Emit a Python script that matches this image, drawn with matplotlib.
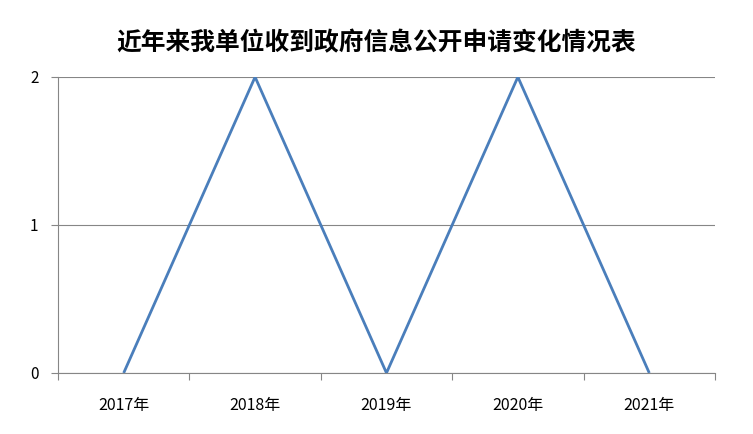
import matplotlib
matplotlib.use("Agg")
import matplotlib.pyplot as plt

plt.rcParams['font.family'] = ['Noto Sans CJK SC', 'DejaVu Sans']

years = ["2017年", "2018年", "2019年", "2020年", "2021年"]
counts = [0, 2, 0, 2, 0]
y_ticks = [0, 1, 2]
title = "近年来我单位收到政府信息公开申请变化情况表"

fig = plt.figure(figsize=(7.53, 4.34), dpi=100)
ax = fig.add_axes([0.077, 0.1406, 0.8725, 0.682])

x = range(len(years))
ax.plot(x, counts, color="#4a7ebb", linewidth=2.0, solid_capstyle="butt")

ax.set_xlim(-0.5, len(years) - 0.5)
ax.set_ylim(0, 2)
ax.set_yticks(y_ticks)
ax.set_yticklabels([str(v) for v in y_ticks], fontsize=11)
ax.yaxis.grid(True, color="#868686", linewidth=0.8)
ax.set_axisbelow(True)

# category labels centred, tick marks on category boundaries
ax.set_xticks([i for i in x])
ax.set_xticklabels(years, fontsize=11.5)
ax.tick_params(axis="x", length=0, pad=17)
ax.set_xticks([i - 0.5 for i in range(len(years) + 1)], minor=True)
ax.tick_params(axis="x", which="minor", length=5, color="#868686", width=0.8, direction="out")
ax.tick_params(axis="y", length=5, color="#868686", width=0.8, direction="out", pad=9)

for side in ("top", "right"):
    ax.spines[side].set_visible(False)
for side in ("left", "bottom"):
    ax.spines[side].set_color("#868686")
    ax.spines[side].set_linewidth(0.8)

fig.text(0.5, 0.9, title, ha="center", va="center", fontsize=17.8, fontweight="bold")

fig.savefig("out.png", dpi=100)
